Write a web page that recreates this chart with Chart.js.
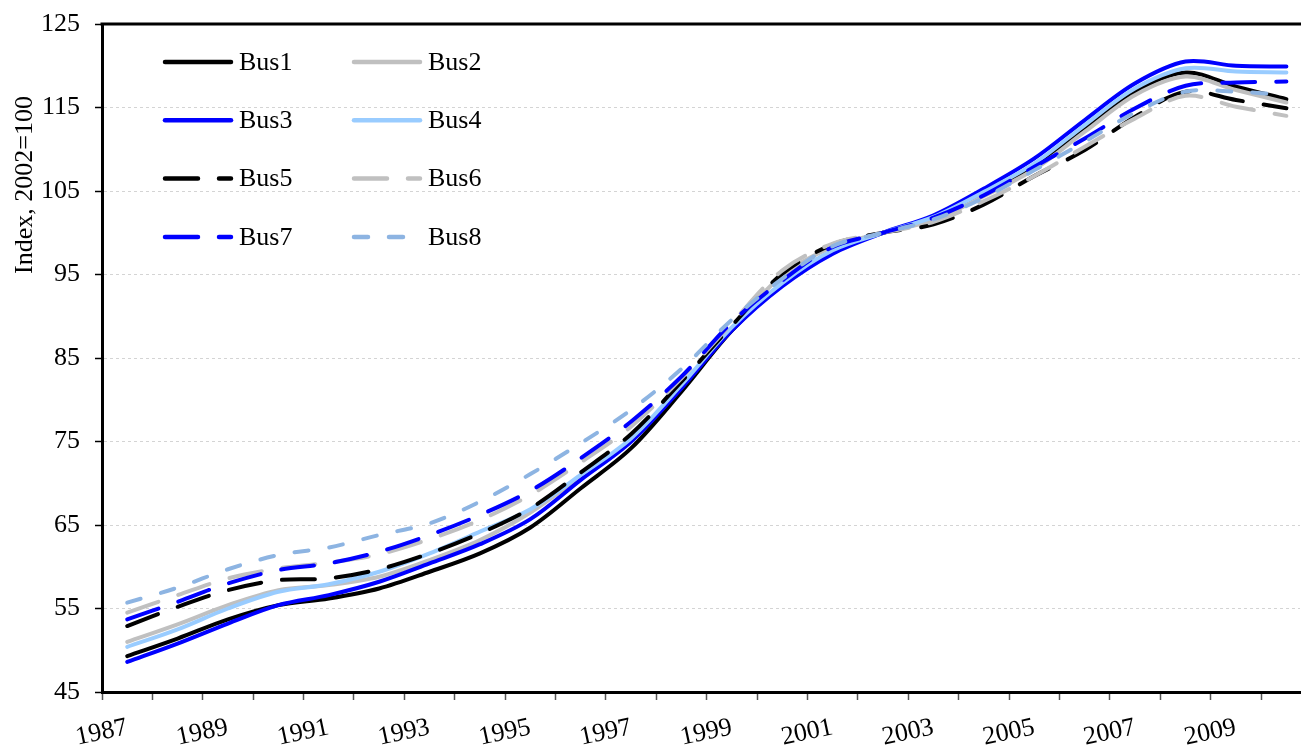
<!DOCTYPE html>
<html>
<head>
<meta charset="utf-8">
<script src="https://cdn.jsdelivr.net/npm/chart.js@4.4.1/dist/chart.umd.min.js"></script>
<style>
  html, body { margin: 0; padding: 0; background: #ffffff; overflow: hidden; }
  canvas { display: block; }
</style>
</head>
<body>
<canvas id="chart" width="1301" height="750"></canvas>
<script>
// Annual index values (2002 = 100), one value per year
const years = [1987, 1988, 1989, 1990, 1991, 1992, 1993, 1994, 1995, 1996, 1997, 1998,
               1999, 2000, 2001, 2002, 2003, 2004, 2005, 2006, 2007, 2008, 2009, 2010];

const bus1 = [49.3, 51.4, 53.7, 55.4, 56.2, 57.4, 59.4, 61.6, 64.7, 69.4, 74.2, 81.0,
              88.3, 93.9, 97.8, 100.0, 101.7, 104.7, 107.9, 112.5, 116.9, 119.2, 117.5, 116.0];
const bus2 = [51.0, 53.1, 55.4, 57.2, 57.8, 58.8, 60.8, 63.2, 66.5, 70.8, 75.2, 81.6,
              88.6, 94.9, 98.3, 100.0, 101.5, 104.4, 107.6, 112.1, 116.5, 118.7, 117.1, 115.6];
const bus3 = [48.6, 50.8, 53.2, 55.4, 56.6, 58.2, 60.4, 62.7, 65.7, 70.4, 75.0, 81.4,
              88.3, 93.6, 97.5, 100.0, 102.1, 105.3, 108.9, 113.5, 117.9, 120.5, 120.0, 119.9];
const bus4 = [50.4, 52.5, 55.0, 57.0, 57.9, 59.4, 61.6, 64.2, 66.9, 71.0, 75.4, 81.8,
              88.7, 94.0, 97.9, 100.0, 101.9, 104.9, 108.3, 112.9, 117.3, 119.7, 119.3, 119.2];
const bus5 = [52.9, 55.2, 57.2, 58.4, 58.6, 59.7, 61.6, 64.0, 67.0, 71.3, 75.9, 82.2,
              88.9, 95.1, 98.6, 100.0, 101.0, 103.4, 106.8, 109.9, 113.9, 116.9, 115.9, 114.9];
const bus6 = [54.5, 56.6, 58.6, 59.8, 60.5, 61.5, 63.3, 65.6, 68.6, 72.5, 76.8, 82.6,
              89.2, 95.5, 98.7, 100.0, 101.3, 103.8, 106.8, 110.3, 113.7, 116.4, 115.1, 114.0];
const bus7 = [53.7, 55.8, 58.0, 59.6, 60.4, 61.8, 63.8, 66.2, 69.1, 73.0, 77.4, 82.8,
              89.3, 94.3, 98.3, 100.0, 101.8, 104.5, 107.9, 111.3, 114.9, 117.6, 118.0, 118.1];
const bus8 = [55.7, 57.5, 59.7, 61.4, 62.3, 63.8, 65.2, 67.8, 71.1, 74.8, 78.8, 83.7,
              89.6, 94.5, 98.4, 100.0, 101.6, 104.2, 107.5, 110.9, 114.4, 116.9, 116.9, 116.5];

const seriesNames = ['Bus1', 'Bus2', 'Bus3', 'Bus4', 'Bus5', 'Bus6', 'Bus7', 'Bus8'];
const seriesValues = [bus1, bus2, bus3, bus4, bus5, bus6, bus7, bus8];

// Axis settings
const yMin = 45, yMax = 125, yStep = 10;
const xMin = 1987, xMax = 2010.77;
const yTitle = 'Index, 2002=100';

// Line styles
const colors = ['#000000', '#c0c0c0', '#0000ff', '#99ccff', '#000000', '#c0c0c0', '#0000ff', '#8db4e2'];
const LONG_DASH = [33, 21];
const SHORT_DASH = [14, 21];
const dashes = [[], [], [], [], LONG_DASH, LONG_DASH, LONG_DASH, SHORT_DASH];

const SERIF = '"Liberation Serif", "Times New Roman", serif';
const FONT_SIZE = 26;

// Each annual value sits in the middle of its year
const datasets = seriesValues.map((vals, i) => ({
  label: seriesNames[i],
  data: vals.map((v, k) => ({ x: years[k] + 0.5, y: v })),
  borderColor: colors[i],
  backgroundColor: colors[i],
  borderWidth: 4,
  borderDash: dashes[i],
  borderCapStyle: 'round',
  borderJoinStyle: 'round',
  pointRadius: 0,
  tension: 0.33,
  fill: false,
  order: seriesNames.length - 1 - i   // later series are painted above earlier ones
}));

// Two-column legend inside the plot area
const legendInside = {
  id: 'legendInside',
  afterDatasetsDraw(chart) {
    const ctx = chart.ctx;
    const colX = [163, 352];
    const rowY0 = 62, rowGap = 58.3;
    const sampleLen = 70;
    ctx.save();
    chart.data.datasets.forEach((ds, i) => {
      const col = i % 2, row = Math.floor(i / 2);
      const x0 = colX[col], y = rowY0 + row * rowGap;
      ctx.beginPath();
      ctx.setLineDash(ds.borderDash || []);
      ctx.lineDashOffset = 0;
      ctx.lineCap = 'round';
      ctx.lineWidth = 4.5;
      ctx.strokeStyle = ds.borderColor;
      ctx.moveTo(x0 + 2, y);
      ctx.lineTo(x0 + sampleLen - 2, y);
      ctx.stroke();
      ctx.setLineDash([]);
      ctx.fillStyle = '#000000';
      ctx.font = FONT_SIZE + 'px ' + SERIF;
      ctx.textAlign = 'left';
      ctx.textBaseline = 'middle';
      ctx.fillText(ds.label, x0 + sampleLen + 6, y + 1);
    });
    ctx.restore();
  }
};

// Frame line along the top of the plot and the rotated y-axis title
const frameAndTitle = {
  id: 'frameAndTitle',
  afterDraw(chart) {
    const { ctx, chartArea } = chart;
    ctx.save();
    ctx.strokeStyle = '#000000';
    ctx.lineWidth = 3;
    ctx.setLineDash([]);
    ctx.beginPath();
    ctx.moveTo(chartArea.left - 1.5, chartArea.top);
    ctx.lineTo(chartArea.right + 2, chartArea.top);
    ctx.stroke();

    ctx.translate(25, 185);
    ctx.rotate(-Math.PI / 2);
    ctx.fillStyle = '#000000';
    ctx.font = FONT_SIZE + 'px ' + SERIF;
    ctx.textAlign = 'center';
    ctx.textBaseline = 'middle';
    ctx.fillText(yTitle, 0, 0);
    ctx.restore();
  }
};

const whiteBackground = {
  id: 'whiteBackground',
  beforeDraw(chart) {
    const ctx = chart.ctx;
    ctx.save();
    ctx.fillStyle = '#ffffff';
    ctx.fillRect(0, 0, chart.width, chart.height);
    ctx.restore();
  }
};

new Chart(document.getElementById('chart'), {
  type: 'line',
  data: { datasets },
  plugins: [whiteBackground, legendInside, frameAndTitle],
  options: {
    responsive: false,
    animation: false,
    devicePixelRatio: 1,
    layout: { padding: { top: 24, right: 1, left: 0, bottom: 0 } },
    plugins: {
      legend: { display: false },
      tooltip: { enabled: false },
      title: { display: false }
    },
    scales: {
      x: {
        type: 'linear',
        min: xMin,
        max: xMax,
        afterFit(scale) {
          scale.height = 58;
          scale.paddingLeft = 0;
          scale.paddingRight = 0;
        },
        grid: {
          drawOnChartArea: false,
          drawTicks: true,
          tickLength: 8,
          tickColor: '#555555',
          tickWidth: 1.5
        },
        border: { display: true, color: '#000000', width: 3 },
        ticks: {
          stepSize: 1,
          includeBounds: false,
          autoSkip: false,
          minRotation: 12,
          maxRotation: 12,
          labelOffset: 25,
          padding: 12,
          color: '#000000',
          font: { family: SERIF, size: FONT_SIZE },
          callback: (v) => (Number.isInteger(v) && v % 2 === 1) ? String(v) : ''
        }
      },
      y: {
        min: yMin,
        max: yMax,
        afterFit(scale) {
          scale.width = 102;
          scale.paddingTop = 0;
          scale.paddingBottom = 0;
        },
        grid: {
          color: '#d4d4d4',
          lineWidth: 1,
          drawTicks: true,
          tickLength: 7,
          tickColor: '#000000',
          tickWidth: 1.5
        },
        border: { display: true, color: '#000000', width: 3, dash: [3, 3] },
        ticks: {
          stepSize: yStep,
          padding: 15,
          color: '#000000',
          font: { family: SERIF, size: FONT_SIZE }
        }
      }
    }
  }
});
</script>
</body>
</html>
